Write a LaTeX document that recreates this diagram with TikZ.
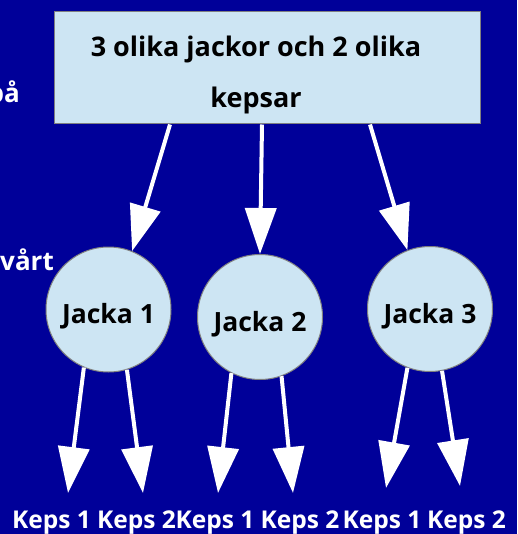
\documentclass[tikz,border=0pt]{standalone}
\usepackage{fontspec}
\setmainfont{Open Sans}
\usetikzlibrary{arrows.meta}
\definecolor{bgblue}{RGB}{0,0,153}
\definecolor{paleblue}{RGB}{205,229,243}
\begin{document}
\begin{tikzpicture}[
    x=1pt, y=-1pt,
    topbox/.style={rectangle, draw=gray, line width=1pt, fill=paleblue, minimum width=426pt, minimum height=112pt, inner sep=0pt},
    boxtext/.style={align=center, font=\fontsize{27}{51}\selectfont\bfseries},
    jacka/.style={circle, draw=gray, line width=1pt, fill=paleblue, minimum size=125pt, inner sep=0pt, text height=28pt, text depth=0pt, font=\fontsize{26.5}{30}\selectfont\bfseries},
    keps/.style={anchor=base, text=white, font=\fontsize{24.5}{28}\selectfont\bfseries, inner sep=0pt},
    side/.style={anchor=base east, text=white, font=\fontsize{26}{30}\selectfont\bfseries, inner sep=0pt},
    arrow/.style={-{Triangle[length=46pt, width=31pt]}, white, line width=4pt}
]
\useasboundingbox (0,0) rectangle (517,534);
\clip (0,0) rectangle (517,534);
\fill[bgblue] (0,0) rectangle (517,534);

% cut-off text on the left
\node[side] (pa) at (20,103) {på};
\node[side] (vart) at (54,270) {vårt};

\node[topbox] (top) at (267,68) {};
\node[boxtext] (toptext) at (256,74.5) {3 olika jackor och 2 olika\\kepsar};

\node[jacka] (j1) at (108.5,309.5) {Jacka 1};
\node[jacka] (j2) at (260,317) {Jacka 2};
\node[jacka] (j3) at (430,309) {Jacka 3};

\draw[arrow] ([xshift=-97pt]top.south) -- (j1.68);
\draw[arrow] ([xshift=-5pt]top.south) -- (j2.90);
\draw[arrow] ([xshift=103pt]top.south) -- (j3.111);

\coordinate (t1) at (68,493);
\coordinate (t2) at (143,493);
\coordinate (t3) at (218,493);
\coordinate (t4) at (293,493);
\coordinate (t5) at (386,488);
\coordinate (t6) at (460,486);

\draw[arrow] (j1.-113) -- (t1);
\draw[arrow] (j1.-73) -- (t2);
\draw[arrow] (j2.-117) -- (t3);
\draw[arrow] (j2.-70) -- (t4);
\draw[arrow] (j3.-111) -- (t5);
\draw[arrow] (j3.-79) -- (t6);

\node[keps] (k1) at (51.5,528) {Keps 1};
\node[keps] (k2) at (136.5,528) {Keps 2};
\node[keps] (k3) at (215,528) {Keps 1};
\node[keps] (k4) at (300,528) {Keps 2};
\node[keps] (k5) at (382,528) {Keps 1};
\node[keps] (k6) at (466.5,528) {Keps 2};
\end{tikzpicture}
\end{document}
